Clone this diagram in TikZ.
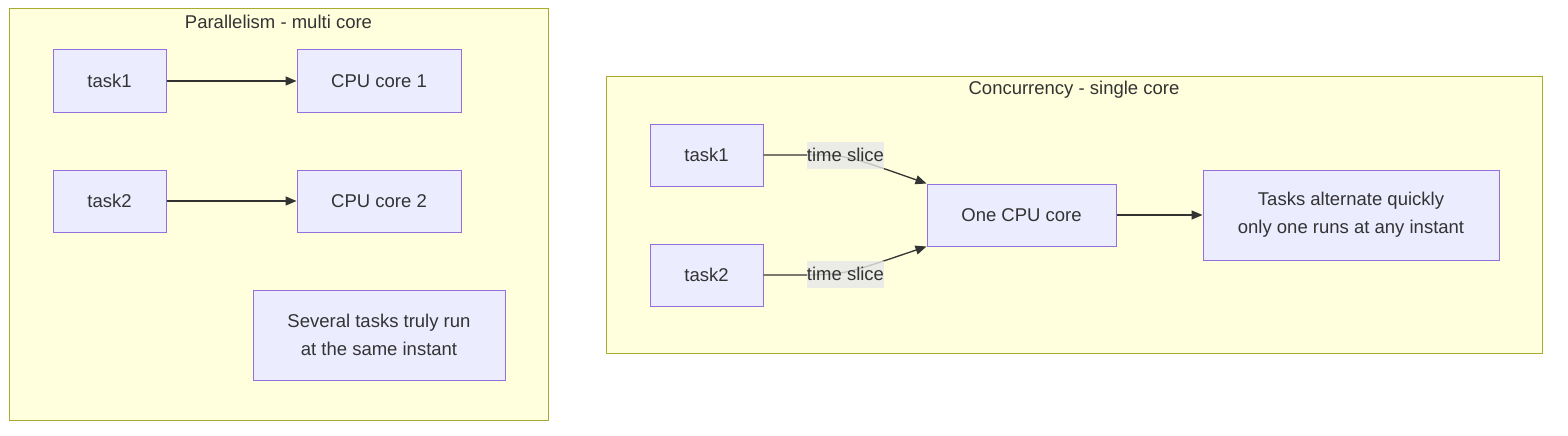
\documentclass[tikz,border=0pt]{standalone}
\usepackage{fontspec}
\setmainfont{Liberation Sans}
\usepackage{xcolor}
\usetikzlibrary{arrows.meta, calc}
\definecolor{clusterfill}{HTML}{FFFFDE}
\definecolor{clusterline}{HTML}{AAAA33}
\definecolor{boxfill}{HTML}{ECECFF}
\definecolor{boxline}{HTML}{9370DB}
\definecolor{ink}{HTML}{333333}
\definecolor{slicefill}{HTML}{E8E8E8}
\tikzset{
cluster/.style={draw=clusterline, fill=clusterfill, line width=1pt},
box/.style={
  draw=boxline, fill=boxfill, line width=1pt, rectangle,
  text=ink, align=center, inner sep=0pt,
  font=\fontsize{18.5}{28}\selectfont
},
title/.style={text=ink, font=\fontsize{18.5}{20}\selectfont, inner sep=0pt},
slice/.style={fill=slicefill, fill opacity=0.8, text opacity=1, text=ink,
  minimum width=77pt, minimum height=27pt, inner sep=0pt,
  font=\fontsize{18.5}{20}\selectfont},
edge/.style={draw=ink, line width=1.3pt, -{Triangle[length=11pt,width=9pt]}},
}

\begin{document}
\begin{tikzpicture}[x=1pt, y=-1pt]
            \useasboundingbox (0,0) rectangle (1568,436);

            % parallelism
            \draw[cluster] (9,9) rectangle (548,420);
            \node[title] (ptitle) at (278.5,22) {Parallelism - multi core};
            \node[box, minimum width=113pt, minimum height=62pt] (pt1) at (109.5,81) {task1};
            \node[box, minimum width=164pt, minimum height=62pt] (pc1) at (379,81) {CPU core 1};
            \node[box, minimum width=113pt, minimum height=62pt] (pt2) at (109.5,201) {task2};
            \node[box, minimum width=164pt, minimum height=62pt] (pc2) at (379,201) {CPU core 2};
            \node[box, minimum width=252pt, minimum height=90pt] (pnote) at (379,335) {Several tasks truly run\\at the same instant};
            \draw[edge] (pt1) -- (pc1);
            \draw[edge] (pt2) -- (pc2);

            % concurrency
            \draw[cluster] (606,76) rectangle (1542,353);
            \node[title] (ctitle) at (1074,89.5) {Concurrency - single core};
            \node[box, minimum width=113pt, minimum height=62pt] (ct1) at (706.5,155) {task1};
            \node[box, minimum width=113pt, minimum height=62pt] (ct2) at (706.5,275) {task2};
            \node[box, minimum width=189pt, minimum height=62pt] (core) at (1021.5,215) {One CPU core};
            \node[box, minimum width=296pt, minimum height=90pt] (cnote) at (1351,215) {Tasks alternate quickly\\only one runs at any instant};
            \coordinate (s1) at (845.5,155);
            \coordinate (s2) at (845.5,274);
            \draw[edge] (ct1.east) -- ($(ct1.east)+(45,0)$) .. controls (s1) .. (core.north west);
            \draw[edge] (ct2.east) -- ($(ct2.east)+(45,0)$) .. controls (s2) .. (core.south west);
            \node[slice] (slice1) at (s1) {time slice};
            \node[slice] (slice2) at (s2) {time slice};
            \draw[edge] (core) -- (cnote);
        \end{tikzpicture}
\end{document}
